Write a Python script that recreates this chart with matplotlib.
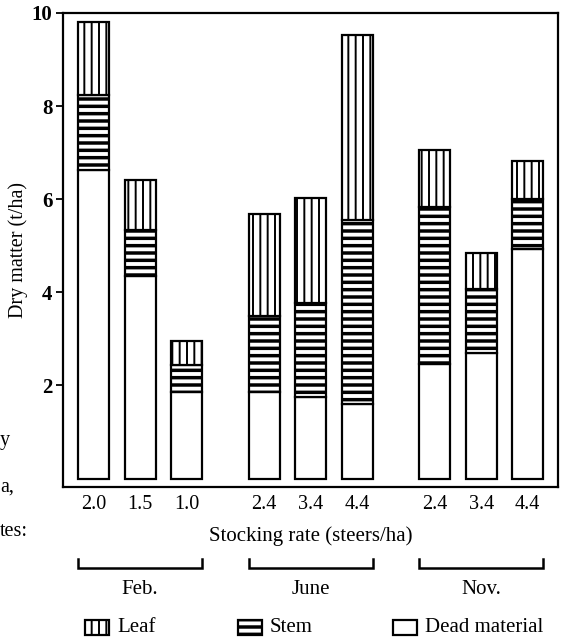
import matplotlib
matplotlib.use("Agg")
import matplotlib.pyplot as plt
from matplotlib.patches import Rectangle

# data (t/ha)
months = ["Feb.", "June", "Nov."]
rates = ["2.0", "1.5", "1.0", "2.4", "3.4", "4.4", "2.4", "3.4", "4.4"]
dead = [6.63, 4.35, 1.85, 1.85, 1.75, 1.60, 2.47, 2.70, 4.94]
stem = [1.61, 1.00, 0.58, 1.65, 2.02, 3.96, 3.37, 1.37, 1.07]
leaf = [1.56, 1.07, 0.53, 2.19, 2.25, 3.96, 1.21, 0.77, 0.81]

DPI = 88
K = 100 / DPI  # keep sizes as if drawn at 100 dpi


def pt(v):
    return v * K


plt.rcParams['font.family'] = ['Liberation Serif', 'DejaVu Serif']
plt.rcParams['hatch.color'] = 'black'

W, H = 564, 643
fig = plt.figure(figsize=(W / DPI, H / DPI), dpi=DPI)
ax = fig.add_axes([63 / W, 1 - 487 / H, (558 - 63) / W, (487 - 13) / H])

group_gap = 3.67
xpos = [g * group_gap + i for g in range(3) for i in range(3)]
bw = 0.67

bottoms_stem = dead
bottoms_leaf = [d + s for d, s in zip(dead, stem)]


def hatched_bars(x, h, b, hatch, hlw):
    with plt.rc_context({'hatch.linewidth': hlw}):
        bars = ax.bar(x, h, bw, bottom=b, color='white', edgecolor='black',
                      linewidth=pt(1.6), hatch=hatch)
    for p in bars:
        if hasattr(p, 'set_hatch_linewidth'):
            p.set_hatch_linewidth(hlw)
    return bars


hatched_bars(xpos, dead, 0, None, 1.0)
hatched_bars(xpos, stem, bottoms_stem, '--', pt(2.5))
hatched_bars(xpos, leaf, bottoms_leaf, '||', pt(1.4))

ax.set_xlim(-0.66, 9.99)
ax.set_ylim(-0.18, 9.94)
ax.set_yticks([2, 4, 6, 8, 10])
ax.set_yticklabels(["2", "4", "6", "8", "10"], fontsize=pt(15), fontweight='bold')
ax.set_xticks(xpos)
ax.set_xticklabels(rates, fontsize=pt(14.5))
ax.tick_params(axis='x', length=0, pad=pt(6))
ax.tick_params(axis='y', direction='out', length=pt(5), width=pt(1.3), pad=pt(2.5))
for s in ax.spines.values():
    s.set_linewidth(pt(1.6))
ax.set_ylabel("Dry matter (t/ha)", fontsize=pt(14.5), labelpad=pt(3))

# overlay in pixel coordinates for the annotations below the axes
ov = fig.add_axes([0, 0, 1, 1], zorder=-1)
ov.set_xlim(0, W)
ov.set_ylim(H, 0)
ov.axis('off')

ov.text(311, 536, "Stocking rate (steers/ha)", fontsize=pt(15), ha='center', va='center')

for g, m in enumerate(months):
    i0, i2 = 3 * g, 3 * g + 2
    x0 = ax.transData.transform((xpos[i0] - bw / 2, 0))[0]
    x1 = ax.transData.transform((xpos[i2] + bw / 2, 0))[0]
    ov.plot([x0, x0, x1, x1], [559, 568, 568, 559], color='black', lw=pt(1.8),
            solid_joinstyle='miter')
    ov.text((x0 + x1) / 2, 589, m, fontsize=pt(15), ha='center', va='center')

# legend
legend_items = [("Leaf", '||', pt(1.4), 85), ("Stem", '--', pt(2.5), 238),
                ("Dead material", None, 1.0, 393)]
for name, hatch, hlw, lx in legend_items:
    with plt.rc_context({'hatch.linewidth': hlw}):
        r = Rectangle((lx, 620), 24, 15, facecolor='white', edgecolor='black',
                      linewidth=pt(1.6), hatch=hatch)
    if hasattr(r, 'set_hatch_linewidth'):
        r.set_hatch_linewidth(hlw)
    ov.add_patch(r)
    ov.text(lx + 32, 628, name, fontsize=pt(15), ha='left', va='center')

# fragments of the neighbouring column at the left edge
ov.text(0, 440, "y", fontsize=pt(14.5), ha='left', va='center')
ov.text(0, 487, "a,", fontsize=pt(14.5), ha='left', va='center')
ov.text(0, 531, "tes:", fontsize=pt(14.5), ha='left', va='center')

fig.savefig("out.png", dpi=DPI)
